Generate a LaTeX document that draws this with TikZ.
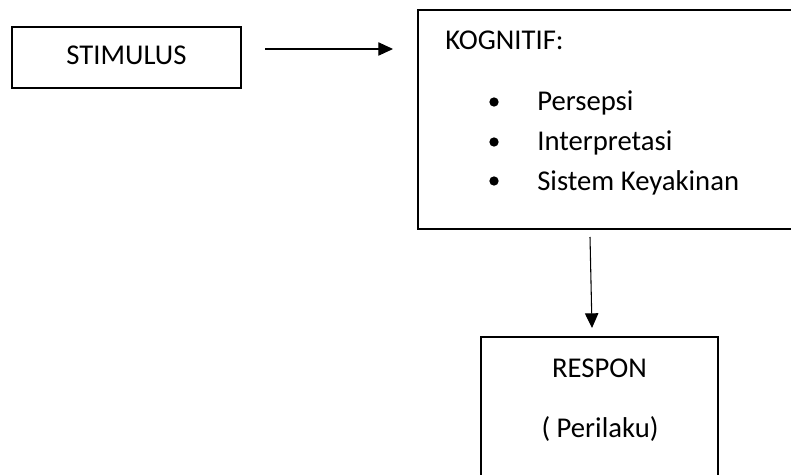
\documentclass[tikz,border=0pt]{standalone}
\usepackage{fontspec}
\setmainfont{Carlito}
\usetikzlibrary{arrows.meta}
\begin{document}
\begin{tikzpicture}[x=0.75pt,y=-0.75pt,
  box/.style={draw=black,line width=1.6pt,inner sep=0pt,rectangle},
  txt/.style={inner sep=0pt,anchor=base,font=\fontsize{21.5pt}{25pt}\selectfont},
  dot/.style={fill=black,circle,inner sep=0pt,minimum size=7pt},
  conn/.style={draw=black,line width=0.8pt,-{Triangle[length=11pt,width=10pt]}}]
\useasboundingbox (0,0) rectangle (791,474);
\clip (0,0) rectangle (791,474);
\fill[white] (0,0) rectangle (791,474);
% boxes
\node[box,minimum width=229*0.75pt,minimum height=61*0.75pt] (stim) at (126.5,57.5) {};
\node[box,minimum width=382*0.75pt,minimum height=219*0.75pt] (kog) at (609,119.5) {};
\node[box,minimum width=237*0.75pt,minimum height=145*0.75pt] (resp) at (599.5,409.5) {};
% texts
\node[txt] (tstim) at (126.5,65) {STIMULUS};
\node[txt,anchor=base west] (tkog) at (445,50) {KOGNITIF:};
\node[dot] (b1) at (494,102) {};
\node[dot] (b2) at (494,142) {};
\node[dot] (b3) at (494,181) {};
\node[txt,anchor=base west] (i1) at (537,111) {Persepsi};
\node[txt,anchor=base west] (i2) at (537,151) {Interpretasi};
\node[txt,anchor=base west] (i3) at (537,190) {Sistem Keyakinan};
\node[txt] (tresp) at (599.5,377) {RESPON};
\node[txt] (tper) at (600,437) {( Perilaku)};
% connectors
\coordinate (a1s) at (265,49);
\coordinate (a1e) at (393,49);
\coordinate (a2s) at (590,237);
\coordinate (a2e) at (592,328);
\draw[conn] (a1s) -- (a1e);
\draw[conn] (a2s) -- (a2e);
\end{tikzpicture}
\end{document}
